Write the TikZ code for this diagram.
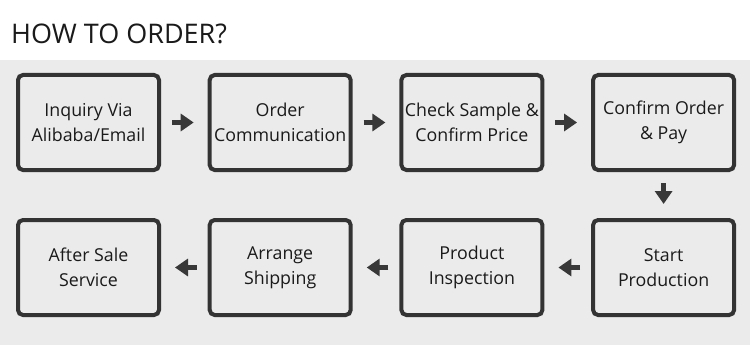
\documentclass[tikz,border=0pt]{standalone}
\usepackage{fontspec}
\setmainfont{Open Sans}
\usepackage{xcolor}
\usetikzlibrary{arrows.meta,positioning}
\definecolor{panelbg}{HTML}{EBEBEB}
\definecolor{frame}{HTML}{333333}
\definecolor{arrowcol}{HTML}{383838}
\definecolor{titlecol}{HTML}{1A1A1A}

\begin{document}
\begin{tikzpicture}[
  x=1pt, y=1pt,
  node distance=46pt and 46.7pt,
  stepbox/.style={rounded corners=5pt, draw=frame, line width=4pt, fill=panelbg,
                  minimum width=141pt, minimum height=95pt, inner sep=2pt, align=center,
                  font=\fontsize{17.8}{25}\selectfont, text=titlecol},
  ar/.style={-{Triangle[length=13pt,width=17pt]}, line width=5pt, draw=arrowcol,
             shorten <=11pt, shorten >=14pt},
]
\useasboundingbox (0,0) rectangle (750,-345);
\fill[white] (0,0) rectangle (750,-60);
\fill[panelbg] (0,-60) rectangle (750,-345);
\node[anchor=base west, inner sep=0pt, font=\fontsize{27}{30}\selectfont, text=titlecol]
  (title) at (11,-44) {HOW TO ORDER?};
% top row, left to right
\node[stepbox] (inq) at (88.5,-122.5) {Inquiry Via\\Alibaba/Email};
\node[stepbox, right=of inq] (comm) {Order\\Communication};
\node[stepbox, right=of comm] (check) {Check Sample \&\\Confirm Price};
\node[stepbox, right=of check] (conf) {Confirm Order\\\& Pay};
% bottom row, right to left
\node[stepbox, below=of conf] (prod) {Start\\Production};
\node[stepbox, left=of prod] (insp) {Product\\Inspection};
\node[stepbox, left=of insp] (ship) {Arrange\\Shipping};
\node[stepbox, left=of ship] (after) {After Sale\\Service};
\draw[ar] (inq) -- (comm);
\draw[ar] (comm) -- (check);
\draw[ar] (check) -- (conf);
\draw[ar] (conf) -- (prod);
\draw[ar] (prod) -- (insp);
\draw[ar] (insp) -- (ship);
\draw[ar] (ship) -- (after);
\end{tikzpicture}
\end{document}
